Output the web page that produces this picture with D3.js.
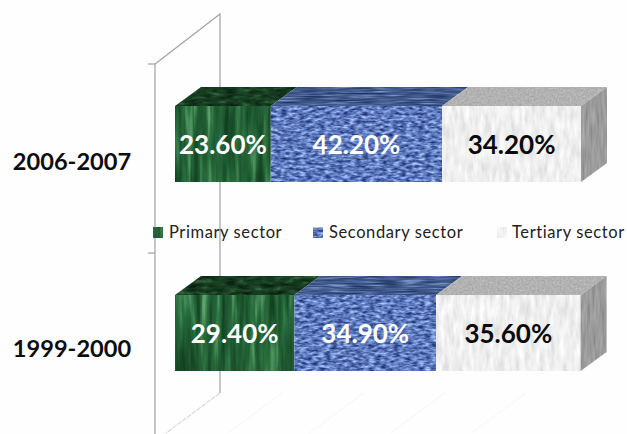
<!DOCTYPE html>
<html>
<head>
<meta charset="utf-8">
<style>
html, body { margin: 0; padding: 0; background: #fefefe; }
svg { display: block; font-family: Lato, "Open Sans", sans-serif; }
.period { font-size: 23.6px; font-weight: 700; fill: #0d0d0d; }
.value { font-size: 26px; font-weight: 700; }
.legend { font-size: 16.5px; fill: #222; letter-spacing: 0.6px; }
</style>
</head>
<body>
<svg width="627" height="434"></svg>
<script src="https://d3js.org/d3.v7.min.js"></script>
<script>

var periods = ["2006-2007", "1999-2000"];
var sectors = ["Primary sector", "Secondary sector", "Tertiary sector"];
var primary = [23.6, 29.4];
var secondary = [42.2, 34.9];
var tertiary = [34.2, 35.6];

var svg = d3.select("svg");

var x = d3.scaleLinear().domain([0, 100]).range([175, 581]);
var y = d3.scaleBand().domain(periods).range([106, 371]).paddingInner(0.598);

// depth of the fake 3d box
var dx = 26, dy = 19;

var defs = svg.append("defs");

// noise texture, mapped onto a colour ramp and cut to the shape
function texture(id, freq, seed, octaves, reds, greens, blues) {
  var f = defs.append("filter").attr("id", id)
    .attr("x", 0).attr("y", 0).attr("width", 1).attr("height", 1)
    .attr("color-interpolation-filters", "sRGB");
  f.append("feTurbulence")
    .attr("type", "fractalNoise")
    .attr("baseFrequency", freq)
    .attr("numOctaves", octaves)
    .attr("seed", seed)
    .attr("result", "noise");
  f.append("feColorMatrix")
    .attr("type", "matrix")
    .attr("values", "1.6 0 0 0 -0.3  1.6 0 0 0 -0.3  1.6 0 0 0 -0.3  0 0 0 0 1");
  var t = f.append("feComponentTransfer").attr("result", "col");
  t.append("feFuncR").attr("type", "table").attr("tableValues", reds);
  t.append("feFuncG").attr("type", "table").attr("tableValues", greens);
  t.append("feFuncB").attr("type", "table").attr("tableValues", blues);
  f.append("feComposite").attr("in", "col").attr("in2", "SourceAlpha").attr("operator", "in");
}

texture("green-front", "0.14 0.012", 3, 3, "0.07 0.11 0.17 0.38", "0.24 0.33 0.44 0.64", "0.12 0.18 0.25 0.44");
texture("green-top", "0.08 0.25", 8, 3, "0.03 0.07 0.11 0.22", "0.12 0.20 0.27 0.40", "0.06 0.11 0.15 0.27");
texture("blue-front", "0.16 0.38", 5, 2, "0.12 0.28 0.46 0.70", "0.20 0.38 0.58 0.80", "0.46 0.64 0.84 0.97");
texture("blue-top", "0.04 0.6", 11, 2, "0.12 0.21 0.31 0.48", "0.20 0.30 0.41 0.58", "0.38 0.49 0.61 0.80");
texture("white-front", "0.2 0.05", 7, 3, "0.87 0.92 0.96 1", "0.87 0.92 0.96 1", "0.87 0.92 0.96 1");
texture("white-top", "0.5 0.5", 13, 2, "0.64 0.68 0.72 0.76", "0.64 0.68 0.72 0.76", "0.64 0.68 0.72 0.76");
texture("white-side", "0.4 0.04", 17, 2, "0.54 0.59 0.63 0.68", "0.54 0.59 0.63 0.68", "0.54 0.59 0.63 0.68");

// back wall and axis
var wall = svg.append("g").attr("fill", "none").attr("stroke", "#a0a0a0").attr("stroke-width", 1.2);
wall.append("path").attr("d", d3.line()([[155, 434], [155, 64], [220, 14], [220, 393]]));
wall.append("path").attr("d", d3.line()([[220, 393], [166, 433]]))
  .attr("stroke", "#d8d8d8").attr("stroke-dasharray", "5 1");
wall.selectAll(".tick").data(periods).enter().append("line")
  .attr("x1", 148).attr("x2", 155)
  .attr("y1", function(d) { return y(d) - 42; })
  .attr("y2", function(d) { return y(d) - 42; });

// faint floor lines
svg.append("g").attr("stroke", "#f5f5f5").attr("fill", "none")
  .selectAll("line").data([0.2, 0.4, 0.6, 0.8]).enter().append("line")
  .attr("x1", function(d) { return x(d * 100) + 26; }).attr("y1", 393)
  .attr("x2", function(d) { return x(d * 100) - 28; }).attr("y2", 433);

// stack the three series per period
var rows = periods.map(function(p, i) {
  return { period: p, "Primary sector": primary[i], "Secondary sector": secondary[i], "Tertiary sector": tertiary[i] };
});
var stack = d3.stack().keys(sectors)(rows);
var names = ["green", "blue", "white"];
var textColor = ["#fff", "#fff", "#0a0a0a"];

var bars = svg.selectAll(".series").data(stack).enter().append("g").attr("class", "series");

// top faces
bars.selectAll(".top")
  .data(function(s, i) { return s.map(function(d) { return { d: d, name: names[i] }; }); })
  .enter().append("polygon")
  .attr("filter", function(o) { return "url(#" + o.name + "-top)"; })
  .attr("points", function(o) {
    var x0 = x(o.d[0]), x1 = x(o.d[1]), t = y(o.d.data.period);
    return [[x0, t], [x1, t], [x1 + dx, t - dy], [x0 + dx, t - dy]].join(" ");
  });

// front faces
bars.selectAll(".front")
  .data(function(s, i) { return s.map(function(d) { return { d: d, name: names[i] }; }); })
  .enter().append("rect")
  .attr("filter", function(o) { return "url(#" + o.name + "-front)"; })
  .attr("x", function(o) { return x(o.d[0]); })
  .attr("y", function(o) { return y(o.d.data.period); })
  .attr("width", function(o) { return x(o.d[1]) - x(o.d[0]); })
  .attr("height", y.bandwidth());

// right hand side of the box
svg.selectAll(".side").data(stack[2]).enter().append("polygon")
  .attr("filter", "url(#white-side)")
  .attr("points", function(d) {
    var r = x(d[1]), t = y(d.data.period), b = t + y.bandwidth();
    return [[r, t], [r + dx, t - dy], [r + dx, b - dy], [r, b]].join(" ");
  });

// value labels
bars.each(function(s, i) {
  d3.select(this).selectAll("text").data(s).enter().append("text")
    .attr("class", "value")
    .attr("text-anchor", "middle")
    .attr("fill", textColor[i])
    .attr("x", function(d) { return (x(d[0]) + x(d[1])) / 2; })
    .attr("y", function(d) { return y(d.data.period) + 48; })
    .text(function(d) { return (d[1] - d[0]).toFixed(2) + "%"; });
});

// period labels, the lower one sits a bit higher in the original
svg.selectAll(".period").data(periods).enter().append("text")
  .attr("class", "period")
  .attr("text-anchor", "middle")
  .attr("x", 72)
  .attr("y", function(d, i) { return y(d) + 64 - i * 2; })
  .text(function(d) { return d; });

// legend
var legendX = d3.scaleOrdinal().domain(sectors).range([153, 313, 497]);
var legend = svg.selectAll(".key").data(sectors).enter().append("g").attr("class", "key")
  .attr("transform", function(d) { return "translate(" + legendX(d) + ",227)"; });
legend.append("rect")
  .attr("width", 10).attr("height", 11)
  .attr("filter", function(d, i) { return "url(#" + names[i] + "-front)"; });
legend.append("text")
  .attr("class", "legend")
  .attr("x", function(d, i) { return [16, 16, 15][i]; })
  .attr("y", 10.5)
  .text(function(d) { return d; });

</script>
</body>
</html>
